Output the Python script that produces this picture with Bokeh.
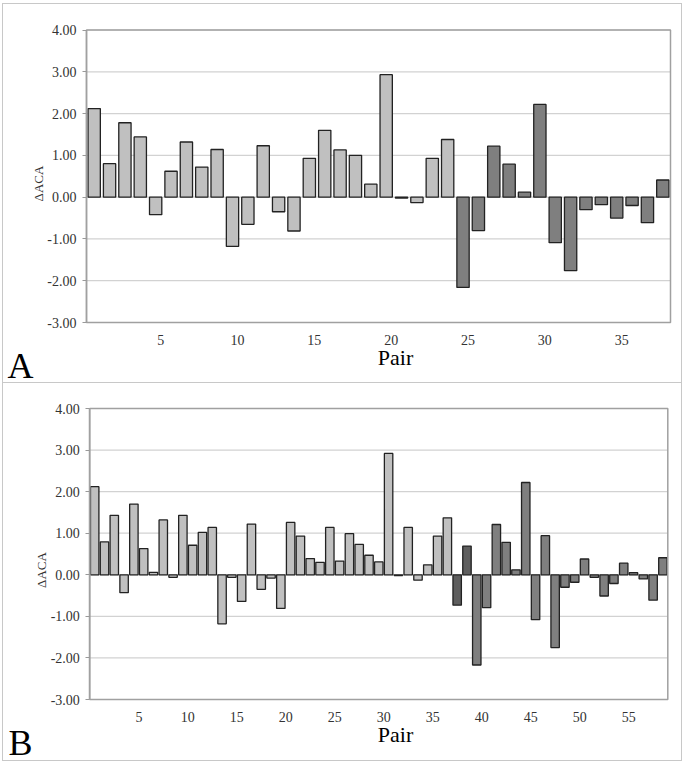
import math
from bokeh.plotting import figure
from bokeh.models import FixedTicker, NumeralTickFormatter, ColumnDataSource, Range1d
from bokeh.layouts import column
from bokeh.transform import factor_cmap
from bokeh.core.properties import value
from bokeh.embed import file_html
from bokeh.resources import INLINE

# ---------------- data ----------------
pairs_a = list(range(1, 39))
delta_aca_a = [2.12, 0.80, 1.78, 1.44, -0.42, 0.62, 1.32, 0.72, 1.14, -1.18,
               -0.65, 1.23, -0.35, -0.81, 0.93, 1.60, 1.13, 1.00, 0.31, 2.93,
               -0.02, -0.13, 0.93, 1.38, -2.16, -0.80, 1.22, 0.79, 0.12, 2.22,
               -1.09, -1.76, -0.30, -0.18, -0.50, -0.20, -0.61, 0.41]
group_a = ["I"] * 24 + ["III"] * 14

pairs_b = list(range(1, 60))
delta_aca_b = [2.12, 0.79, 1.43, -0.43, 1.70, 0.63, 0.06, 1.32, -0.06, 1.43,
               0.71, 1.02, 1.14, -1.18, -0.06, -0.64, 1.22, -0.35, -0.08, -0.81,
               1.26, 0.93, 0.39, 0.30, 1.14, 0.33, 0.99, 0.73, 0.47, 0.31,
               2.92, -0.02, 1.14, -0.13, 0.24, 0.93, 1.37, -0.73, 0.69, -2.17,
               -0.79, 1.21, 0.78, 0.12, 2.22, -1.08, 0.94, -1.75, -0.30, -0.18,
               0.38, -0.06, -0.51, -0.21, 0.28, 0.05, -0.10, -0.61, 0.41]
group_b = ["I"] * 37 + ["II"] * 2 + ["III"] * 20

y_min, y_max = -3, 4
y_ticks = [-3, -2, -1, 0, 1, 2, 3, 4]
x_ticks_a = [5, 10, 15, 20, 25, 30, 35]
x_ticks_b = [5, 10, 15, 20, 25, 30, 35, 40, 45, 50, 55]

x_title = "Pair"
y_title = "\u0394ACA"

groups = ["I", "II", "III"]
palette = ["#c0c0c0", "#5e5e5e", "#7f7f7f"]
SERIF = "Liberation Serif"
W = 680
LABEL_SHIFT_PX = 5  # x tick labels sit slightly right of the bar centres


def panel(pairs, values, grp, xticks, letter, h, box, bar_w, ylab_xy, pair_xy, letter_xy, border):
    # box = (left, right, top, bottom) of the plotting area in pixels of this figure
    left, right, top, bottom = box
    n = len(pairs)
    x0, x1 = 0.5, n + 0.5
    pxu_x = (right - left) / (x1 - x0)
    pxu_y = (bottom - top) / (y_max - y_min)
    xr = Range1d(x0 - left / pxu_x, x1 + (W - right) / pxu_x)
    yr = Range1d(y_min - (h - bottom) / pxu_y, y_max + top / pxu_y)
    d = LABEL_SHIFT_PX / pxu_x

    p = figure(width=W, height=h, x_range=xr, y_range=yr,
               output_backend="svg", toolbar_location=None,
               min_border_left=0, min_border_right=0, min_border_top=0, min_border_bottom=0)
    p.extra_x_ranges = {"px": Range1d(0, W), "lab": Range1d(xr.start - d, xr.end - d)}
    p.extra_y_ranges = {"px": Range1d(0, h)}
    p.styles = border
    p.grid.visible = False
    p.outline_line_color = None

    # horizontal gridlines
    gl = p.segment(x0=[x0] * len(y_ticks), x1=[x1] * len(y_ticks), y0=y_ticks, y1=y_ticks,
                   line_color="#d2d2d2", line_width=1.2)
    gl.level = "underlay"

    src = ColumnDataSource(dict(x=pairs, top=values, group=grp))
    p.vbar(x="x", top="top", bottom=0, width=bar_w, source=src,
           fill_color=factor_cmap("group", palette, groups),
           line_color="#222222", line_width=1.3)

    # plot-area outline
    p.quad(left=[x0], right=[x1], bottom=[y_min], top=[y_max], fill_color=None,
           line_color="#a0a0a0", line_width=1.5)

    xa = p.xaxis[0]
    xa.x_range_name = "lab"
    xa.fixed_location = y_min
    xa.bounds = (x0, x1)
    xa.ticker = FixedTicker(ticks=xticks)
    xa.major_tick_line_color = None
    xa.minor_tick_line_color = None
    xa.axis_line_color = None
    xa.major_label_text_font = SERIF
    xa.major_label_text_font_size = "14px"
    xa.major_label_text_color = "#333333"
    xa.major_label_standoff = 6

    ya = p.yaxis[0]
    ya.fixed_location = x0
    ya.bounds = (y_min, y_max)
    ya.ticker = FixedTicker(ticks=y_ticks)
    ya.formatter = NumeralTickFormatter(format="0.00")
    ya.major_tick_out = 4
    ya.major_tick_in = 0
    ya.major_tick_line_color = "#999999"
    ya.minor_tick_line_color = None
    ya.axis_line_color = "#a0a0a0"
    ya.axis_line_width = 1.5
    ya.major_label_text_font = SERIF
    ya.major_label_text_font_size = "14px"
    ya.major_label_text_color = "#333333"
    ya.major_label_standoff = 6

    p.text(x=[ylab_xy[0]], y=[ylab_xy[1]], text=[y_title], angle=math.pi / 2,
           x_range_name="px", y_range_name="px", text_font=value(SERIF),
           text_font_size=value("13px"), text_color="#333333",
           text_align="center", text_baseline="middle")
    p.text(x=[pair_xy[0]], y=[pair_xy[1]], text=[x_title],
           x_range_name="px", y_range_name="px", text_font=value(SERIF),
           text_font_size=value("22px"), text_color="#000000",
           text_align="center", text_baseline="alphabetic")
    p.text(x=[letter_xy[0]], y=[letter_xy[1]], text=[letter],
           x_range_name="px", y_range_name="px", text_font=value(SERIF),
           text_font_size=value("36px"), text_color="#000000",
           text_align="left", text_baseline="alphabetic")
    return p


pa = panel(pairs_a, delta_aca_a, group_a, x_ticks_a, "A", 380, (83, 667, 25.5, 318), 0.8,
           (34.5, 201), (392, 27), (4, 18.5),
           {"border": "1px solid #c8c8c8"})
pb = panel(pairs_b, delta_aca_b, group_b, x_ticks_b, "B", 378, (86.3, 664.3, 25, 316), 0.86,
           (38, 191.5), (392, 27.5), (5, 18.5),
           {"border": "1px solid #c8c8c8", "border-top": "none"})

layout = column(pa, pb, spacing=0, styles={"margin-left": "2px", "margin-top": "3px"})
open("out.html", "w").write(file_html(layout, INLINE))
